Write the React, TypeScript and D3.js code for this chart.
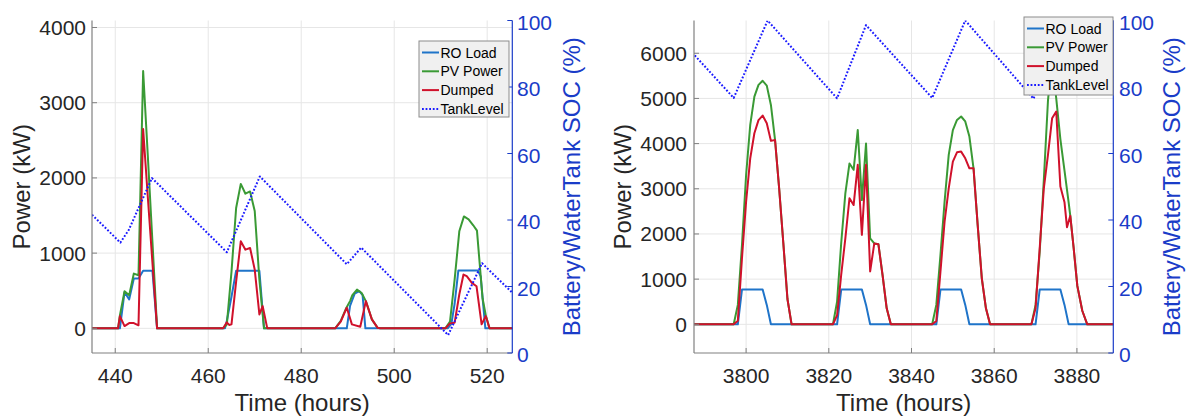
import React from 'react';
import * as d3 from 'd3';

type P = [number, number];

// ---------- shared labels / ticks ----------
const seriesNames = ['RO Load', 'PV Power', 'Dumped', 'TankLevel'];
const socTicks = [0, 20, 40, 60, 80, 100];
const leftXTicks = [440, 460, 480, 500, 520];
const leftYTicks = [0, 1000, 2000, 3000, 4000];
const rightXTicks = [3800, 3820, 3840, 3860, 3880];
const rightYTicks = [0, 1000, 2000, 3000, 4000, 5000, 6000];

// ---------- left panel data ([hour, value]) ----------
const leftRO: P[] = [
  [435, 0], [441, 0], [442, 480], [443, 385], [444, 662], [445, 662], [446, 765], [448, 765], [449, 0],
  [463.6, 0], [464, 100], [465, 420], [466, 765], [471, 765], [472, 0],
  [489.8, 0], [490.5, 300], [491.5, 460], [492.5, 494], [493.2, 440], [493.8, 0],
  [511.5, 0], [512.3, 60], [513, 330], [513.8, 770], [518, 770], [518.6, 690], [519.6, 0], [525.5, 0],
];
const leftPV: P[] = [
  [435, 0], [440.6, 0], [441, 170], [442, 494], [443, 441], [444, 728], [445, 706], [446, 3422], [447, 2300], [448, 1150], [449, 0],
  [463.2, 0], [464, 50], [465, 750], [466, 1600], [467, 1920], [468, 1790], [469, 1820], [470, 1560], [471, 650], [472, 0],
  [487.3, 0], [488.5, 100], [489.6, 260], [490.5, 362], [491, 440], [492, 515], [493, 470], [493.9, 362], [495.2, 119], [496.4, 9], [497, 0],
  [511, 0], [512, 90], [513, 650], [514, 1290], [515, 1488], [516, 1450], [517, 1370], [517.8, 1300], [519, 400], [519.7, 170], [520.5, 0], [525.5, 0],
];
const leftDumped: P[] = [
  [435, 0], [440.6, 0], [441, 163], [442, 30], [443, 70], [444, 70], [445, 40], [446, 2650], [447, 1750], [448, 870], [449, 0],
  [463.2, 0], [464, 80], [464.5, 45], [465, 53], [466, 620], [467, 1157], [468, 1046], [469, 1068], [470, 781], [471, 185], [471.7, 296], [472.7, 0],
  [487.3, 0], [488.5, 90], [489.8, 274], [490.9, 53], [492.7, 22], [493.9, 362], [495.2, 119], [496.4, 9], [497, 0],
  [511, 0], [512, 66], [513, 75], [514, 450], [514.9, 715], [515.6, 693], [516.7, 605], [517.7, 560], [518.8, 53], [519.7, 163], [520.5, 0], [525.5, 0],
];
const leftTank: P[] = [
  [435, 41.6], [441.1, 33.2], [442.9, 37], [447.9, 52.6], [464, 30.3], [471.1, 53.1],
  [489.8, 26.7], [492.9, 31.7], [511.6, 5.4], [518.9, 27], [525.5, 18],
];

// ---------- right panel data ([hour, value]) ----------
const rightRO: P[] = [
  [3787, 0], [3798, 0], [3799, 770], [3804, 770], [3805, 430], [3806, 0],
  [3822, 0], [3823, 770], [3828, 770], [3829, 430], [3830, 0],
  [3846, 0], [3847, 770], [3852, 770], [3853, 430], [3854, 0],
  [3870, 0], [3871, 770], [3876, 770], [3877, 430], [3878, 0], [3890, 0],
];
const rightPV: P[] = [
  [3787, 0], [3797, 0], [3798, 430], [3799, 1756], [3800, 3306], [3801, 4413], [3802, 5040], [3803, 5300], [3804, 5390], [3805, 5284], [3806, 4856], [3807, 4080], [3808, 3000], [3809, 1800], [3810, 560], [3811, 0],
  [3821, 0], [3822, 500], [3823, 1800], [3824, 2900], [3825, 3560], [3826, 3420], [3827, 4300], [3828, 2750], [3829, 4000], [3830, 1900], [3831, 1790], [3832, 1770], [3833, 1090], [3834, 354], [3835, 0],
  [3845, 0], [3846, 430], [3847, 1535], [3848, 2716], [3849, 3750], [3850, 4300], [3851, 4524], [3852, 4600], [3853, 4490], [3854, 4155], [3855, 3454], [3856, 2200], [3857, 1018], [3858, 354], [3859, 0],
  [3869, 0], [3870, 430], [3871, 1600], [3872, 3200], [3873, 4950], [3874, 5900], [3875, 5000], [3876, 4100], [3877, 3400], [3878, 2700], [3878.4, 2400], [3879.2, 1700], [3880.1, 850], [3881.3, 300], [3882.5, 0], [3890, 0],
];
const rightDumped: P[] = [
  [3787, 0], [3797, 0], [3798, 80], [3799, 1460], [3800, 2715], [3801, 3675], [3802, 4230], [3803, 4520], [3804, 4620], [3805, 4450], [3806, 4060], [3807, 4080], [3808, 3000], [3809, 1800], [3810, 560], [3811, 0],
  [3821, 0], [3822, 200], [3823, 1100], [3824, 1900], [3825, 2790], [3826, 2640], [3827, 3530], [3828, 1980], [3829, 3530], [3830, 1170], [3831, 1790], [3832, 1770], [3833, 1090], [3834, 354], [3835, 0],
  [3845, 0], [3846, 74], [3847, 1166], [3848, 2273], [3849, 3011], [3850, 3601], [3851, 3808], [3852, 3823], [3853, 3675], [3854, 3454], [3855, 3454], [3856, 2200], [3857, 1018], [3858, 354], [3859, 0],
  [3869, 0], [3870, 354], [3871, 1683], [3872, 3011], [3873, 3750], [3874, 4560], [3875, 4710], [3876, 3050], [3877, 2700], [3877.6, 2150], [3878.4, 2400], [3879.2, 1700], [3880.1, 850], [3881.3, 300], [3882.5, 0], [3890, 0],
];
const rightTank: P[] = [
  [3787, 90.3], [3797, 76.7], [3805.2, 100], [3822, 76.6], [3829, 98.6], [3845, 76.7],
  [3853, 100], [3869.5, 76.5], [3877.5, 99], [3890, 81.5],
];

// ---------- styling ----------
const FONT = '"Liberation Sans", Arial, Helvetica, sans-serif';
const C_RO = '#1f74c9';
const C_PV = '#3a9a35';
const C_DUMP = '#d0112b';
const C_TANK = '#1a1aff';
const C_AX2 = '#1a3cc8';
const C_GRID = '#e6e6e6';
const C_AX = '#808080';
const C_TXT = '#262626';

type PanelProps = {
  left: number; right: number; top: number; bottom: number;
  xDomain: [number, number]; yDomain: [number, number];
  xTicks: number[]; yTicks: number[];
  ro: P[]; pv: P[]; dumped: P[]; tank: P[];
  ylabelX: number; y2labelX: number; yTickRight: number; y2TickLeft: number;
  legend: { x: number; y: number; w: number; h: number };
  id: string;
};

function Panel(p: PanelProps) {
  const x = d3.scaleLinear().domain(p.xDomain).range([p.left, p.right]);
  const y = d3.scaleLinear().domain(p.yDomain).range([p.bottom, p.top]);
  const y2 = d3.scaleLinear().domain([0, 100]).range([p.bottom, p.top]);
  const line = d3.line<P>().x(d => x(d[0])).y(d => y(d[1]));
  const line2 = d3.line<P>().x(d => x(d[0])).y(d => y2(d[1]));
  const clipId = `clip-${p.id}`;
  const cx = (p.left + p.right) / 2;
  const cy = (p.top + p.bottom) / 2;
  const lg = p.legend;
  const colors = [C_RO, C_PV, C_DUMP, C_TANK];
  return (
    <g>
      <defs>
        <clipPath id={clipId}>
          <rect x={p.left} y={p.top} width={p.right - p.left} height={p.bottom - p.top} />
        </clipPath>
      </defs>
      {/* grid */}
      {p.xTicks.map(t => (
        <line key={'gx' + t} x1={x(t)} x2={x(t)} y1={p.top} y2={p.bottom} stroke={C_GRID} strokeWidth={1} />
      ))}
      {p.yTicks.map(t => (
        <line key={'gy' + t} x1={p.left} x2={p.right} y1={y(t)} y2={y(t)} stroke={C_GRID} strokeWidth={1} />
      ))}
      {/* series */}
      <g clipPath={`url(#${clipId})`} fill="none" strokeLinejoin="round">
        <path d={line(p.ro) || ''} stroke={C_RO} strokeWidth={2} />
        <path d={line(p.pv) || ''} stroke={C_PV} strokeWidth={2} />
        <path d={line(p.dumped) || ''} stroke={C_DUMP} strokeWidth={2} />
        <path d={line2(p.tank) || ''} stroke={C_TANK} strokeWidth={2} strokeDasharray="1.8,1.8" />
      </g>
      {/* left axis */}
      <line x1={p.left} x2={p.left} y1={p.top} y2={p.bottom} stroke={C_AX} strokeWidth={1.2} />
      {p.yTicks.map(t => (
        <g key={'yt' + t}>
          <line x1={p.left} x2={p.left + 5} y1={y(t)} y2={y(t)} stroke={C_AX} strokeWidth={1} />
          <text x={p.yTickRight} y={y(t) + 7.5} textAnchor="end" fontSize={21} fill={C_TXT} fontFamily={FONT}>{t}</text>
        </g>
      ))}
      {/* bottom axis */}
      <line x1={p.left} x2={p.right} y1={p.bottom} y2={p.bottom} stroke={C_AX} strokeWidth={1.2} />
      {p.xTicks.map(t => (
        <g key={'xt' + t}>
          <line x1={x(t)} x2={x(t)} y1={p.bottom} y2={p.bottom - 5} stroke={C_AX} strokeWidth={1} />
          <text x={x(t)} y={p.bottom + 30} textAnchor="middle" fontSize={21} fill={C_TXT} fontFamily={FONT}>{t}</text>
        </g>
      ))}
      {/* right axis */}
      <line x1={p.right} x2={p.right} y1={p.top} y2={p.bottom} stroke={C_AX2} strokeWidth={1.2} />
      {socTicks.map(t => (
        <g key={'y2t' + t}>
          <line x1={p.right} x2={p.right - 5} y1={y2(t)} y2={y2(t)} stroke={C_AX2} strokeWidth={1} />
          <text x={p.y2TickLeft} y={y2(t) + 9} textAnchor="start" fontSize={21} fill={C_AX2} fontFamily={FONT}>{t}</text>
        </g>
      ))}
      {/* axis labels */}
      <text x={cx} y={411} textAnchor="middle" fontSize={24} fill={C_TXT} fontFamily={FONT}>Time (hours)</text>
      <text transform={`translate(${p.ylabelX},${cy}) rotate(-90)`} textAnchor="middle" fontSize={24} fill={C_TXT} fontFamily={FONT}>Power (kW)</text>
      <text transform={`translate(${p.y2labelX},${cy}) rotate(-90)`} textAnchor="middle" fontSize={24} fill={C_AX2} fontFamily={FONT}>Battery/WaterTank SOC (%)</text>
      {/* legend */}
      <g>
        <rect x={lg.x} y={lg.y} width={lg.w} height={lg.h} fill="#f0f0f0" stroke="#8c8c8c" strokeWidth={1} />
        {seriesNames.map((name, i) => {
          const ry = lg.y + 11.5 + i * 18.8;
          return (
            <g key={name}>
              <line x1={lg.x + 3} x2={lg.x + 20} y1={ry} y2={ry} stroke={colors[i]} strokeWidth={2}
                strokeDasharray={i === 3 ? '1.8,1.8' : undefined} />
              <text x={lg.x + 21.5} y={ry + 5} fontSize={14} fill="#000" fontFamily={FONT}>{name}</text>
            </g>
          );
        })}
      </g>
    </g>
  );
}

export default function App() {
  return (
    <svg width={1190} height={418} style={{ position: 'absolute', left: 0, top: 0, background: '#fff' }}>
      <rect x={0} y={0} width={1190} height={418} fill="#fff" />
      <Panel id="a" left={92} right={512.3} top={20.5} bottom={353}
        xDomain={[435, 525.4]} yDomain={[-328, 4093]}
        xTicks={leftXTicks} yTicks={leftYTicks}
        ro={leftRO} pv={leftPV} dumped={leftDumped} tank={leftTank}
        ylabelX={30} y2labelX={580} yTickRight={86} y2TickLeft={517}
        legend={{ x: 419, y: 41, w: 90, h: 76 }} />
      <Panel id="b" left={694} right={1113.3} top={20.5} bottom={353}
        xDomain={[3787.4, 3888.8]} yDomain={[-635, 6725]}
        xTicks={rightXTicks} yTicks={rightYTicks}
        ro={rightRO} pv={rightPV} dumped={rightDumped} tank={rightTank}
        ylabelX={631} y2labelX={1180} yTickRight={687} y2TickLeft={1119}
        legend={{ x: 1024, y: 17, w: 89, h: 78 }} />
    </svg>
  );
}
